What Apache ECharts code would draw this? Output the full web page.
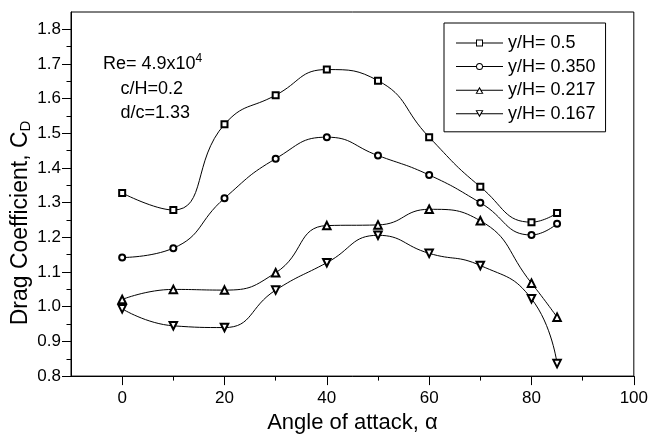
<!DOCTYPE html>
<html>
<head>
<meta charset="utf-8">
<script src="https://cdn.jsdelivr.net/npm/echarts@6/dist/echarts.min.js"></script>
<style>
  html, body { margin: 0; padding: 0; background: #fff; }
  #chart { width: 651px; height: 439px; }
</style>
</head>
<body>
<div id="chart"></div>
<script>
// Angle of attack (degrees)
var angles = [0, 10, 20, 30, 40, 50, 60, 70, 80, 85];

// Drag coefficient for each gap ratio y/H
var cd_050  = [1.328, 1.279, 1.526, 1.610, 1.684, 1.652, 1.489, 1.346, 1.244, 1.270];
var cd_0350 = [1.142, 1.169, 1.313, 1.427, 1.489, 1.436, 1.380, 1.300, 1.207, 1.239];
var cd_0217 = [1.021, 1.050, 1.048, 1.098, 1.234, 1.236, 1.281, 1.248, 1.068, 0.970];
var cd_0167 = [0.994, 0.945, 0.940, 1.048, 1.127, 1.206, 1.154, 1.119, 1.023, 0.836];

var seriesNames = ['y/H= 0.5', 'y/H= 0.350', 'y/H= 0.217', 'y/H= 0.167'];

// Tick positions
var xMajor = [0, 20, 40, 60, 80, 100];
var xMinor = [10, 30, 50, 70, 90];
var yMajor = [0.8, 0.9, 1.0, 1.1, 1.2, 1.3, 1.4, 1.5, 1.6, 1.7, 1.8];
var yMinor = [0.85, 0.95, 1.05, 1.15, 1.25, 1.35, 1.45, 1.55, 1.65, 1.75];

var FONT = 'Liberation Sans, Arial, sans-serif';

// Legend icons: a line with a hollow marker in the middle (47 x 7 box)
var ICON_SQUARE = 'path://M0,3H20V4H0Z M27,3H47V4H27Z M20,0H27V7H20Z M21,1V6H26V1Z';
var ICON_CIRCLE = 'path://M0,3H20V4H0Z M27,3H47V4H27Z ' +
  'M20,3.5A3.5,3.5 0 1 1 27,3.5A3.5,3.5 0 1 1 20,3.5Z ' +
  'M21,3.5A2.5,2.5 0 1 0 26,3.5A2.5,2.5 0 1 0 21,3.5Z';
var ICON_TRI_UP = 'path://M0,3H21.8V4H0Z M25.2,3H47V4H25.2Z ' +
  'M23.5,0L27.5,7L19.5,7Z M23.5,2.3L21.2,6.2L25.8,6.2Z';
var ICON_TRI_DOWN = 'path://M0,3H21.5V4H0Z M25.5,3H47V4H25.5Z ' +
  'M19.5,0L27.5,0L23.5,7Z M21.2,0.8L23.5,4.7L25.8,0.8Z';
var legendIcons = [ICON_SQUARE, ICON_CIRCLE, ICON_TRI_UP, ICON_TRI_DOWN];

function pairs(xs, ys) {
  return xs.map(function (x, i) { return [x, ys[i]]; });
}

function lineSeries(name, values, symbol, size, rotate) {
  return {
    name: name,
    type: 'line',
    data: pairs(angles, values),
    smooth: 0.5,
    symbol: symbol,
    symbolSize: size,
    symbolRotate: rotate || 0,
    showAllSymbol: true,
    lineStyle: { color: '#000', width: 1 },
    itemStyle: { color: '#000', borderColor: '#000', borderWidth: 1 },
    emphasis: { disabled: true },
    animation: false,
    z: 3
  };
}

var chart = echarts.init(document.getElementById('chart'), null, { renderer: 'canvas' });

chart.setOption({
  backgroundColor: '#fff',
  animation: false,
  grid: {
    left: 71, right: 16.5, top: 12, bottom: 49.5,
    show: true, borderColor: '#000', borderWidth: 1, backgroundColor: 'transparent'
  },
  legend: {
    orient: 'vertical',
    left: 444, top: 23,
    padding: [11, 10, 9, 12],
    itemWidth: 47, itemHeight: 7, itemGap: 5.6,
    borderColor: '#000', borderWidth: 1, borderRadius: 0,
    backgroundColor: '#fff',
    itemStyle: { color: '#000', borderWidth: 0 },
    textStyle: { fontFamily: FONT, fontSize: 18, color: '#000', lineHeight: 18 },
    data: seriesNames.map(function (n, i) { return { name: n, icon: legendIcons[i] }; })
  },
  xAxis: [{
    type: 'value', min: -10, max: 100,
    name: 'Angle of attack, \u03b1',
    nameLocation: 'middle', nameGap: 29,
    nameTextStyle: { fontFamily: FONT, fontSize: 22, color: '#000' },
    axisLine: { show: true, onZero: false, lineStyle: { color: '#000', width: 1 } },
    axisTick: { show: true, inside: false, length: 9, customValues: xMajor, lineStyle: { color: '#000' } },
    axisLabel: { customValues: xMajor, margin: 14, fontFamily: FONT, fontSize: 17, color: '#000' },
    splitLine: { show: false }
  }, {
    type: 'value', min: -10, max: 100, position: 'bottom',
    axisLine: { show: false, onZero: false },
    axisTick: { show: true, length: 4.5, customValues: xMinor, lineStyle: { color: '#000' } },
    axisLabel: { show: false },
    splitLine: { show: false }
  }],
  yAxis: [{
    type: 'value', min: 0.8, max: 1.85,
    axisLine: { show: true, onZero: false, lineStyle: { color: '#000', width: 1 } },
    axisTick: { show: true, inside: false, length: 9, customValues: yMajor, lineStyle: { color: '#000' } },
    axisLabel: {
      customValues: yMajor, margin: 10, fontFamily: FONT, fontSize: 17, color: '#000',
      formatter: function (v) { return v.toFixed(1); }
    },
    splitLine: { show: false }
  }, {
    type: 'value', min: 0.8, max: 1.85, position: 'left',
    axisLine: { show: false, onZero: false },
    axisTick: { show: true, length: 4.5, customValues: yMinor, lineStyle: { color: '#000' } },
    axisLabel: { show: false },
    splitLine: { show: false }
  }],
  graphic: [{
    // vertical axis title with subscript
    type: 'text', x: 21, y: 223, rotation: Math.PI / 2,
    style: {
      text: 'Drag Coefficient, C{sub|D}',
      font: '23px ' + FONT, fill: '#000',
      align: 'center', verticalAlign: 'middle',
      rich: { sub: { fontFamily: FONT, fontSize: 15, fill: '#000', verticalAlign: 'bottom', padding: [9, 0, 0, 0] } }
    }
  }, {
    type: 'text', left: 103, top: 53,
    style: {
      text: 'Re= 4.9x10{sup|4}',
      font: '18px ' + FONT, fill: '#000',
      rich: { sup: { fontFamily: FONT, fontSize: 12, fill: '#000', verticalAlign: 'top', padding: [0, 0, 10, 0] } }
    }
  }, {
    type: 'text', left: 120.5, top: 80,
    style: { text: 'c/H=0.2', font: '18px ' + FONT, fill: '#000' }
  }, {
    type: 'text', left: 120.5, top: 104,
    style: { text: 'd/c=1.33', font: '18px ' + FONT, fill: '#000' }
  }],
  series: [
    lineSeries(seriesNames[0], cd_050, 'emptyRect', 6),
    lineSeries(seriesNames[1], cd_0350, 'emptyCircle', 6),
    lineSeries(seriesNames[2], cd_0217, 'emptyTriangle', 7.5),
    lineSeries(seriesNames[3], cd_0167, 'emptyTriangle', 7.5, 180)
  ]
});
</script>
</body>
</html>
